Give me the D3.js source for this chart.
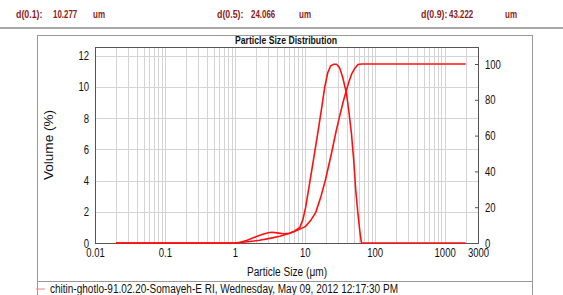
<!DOCTYPE html>
<html>
<head>
<meta charset="utf-8">
<script src="https://cdn.jsdelivr.net/npm/d3@7"></script>
<style>
  html, body { margin: 0; padding: 0; background: #fff; }
  svg { display: block; }
  text { font-family: "Liberation Sans", Arial, sans-serif; }
</style>
</head>
<body>
<div id="chart"></div>
<script>
// ── Data ─────────────────────────────────────────────────────
const percentiles = ["d(0.1):", "d(0.5):", "d(0.9):"];
const percentileValues = ["10.277", "24.066", "43.222"];

// volume % per size (left axis)
const volSizes = [0.02, 1.0, 1.2, 1.5, 2.0, 2.5, 3.0, 3.4, 4.0, 5.0, 6.0, 7.0, 8.0, 8.5, 9.4, 10.3,
                  11.8, 13.5, 15.3, 17.5, 19.3, 21.3, 23.5, 26.0, 28.6, 31.6, 34.9, 39.4, 42.5,
                  46.5, 50.1, 53.5, 57.2, 61.1, 64.6, 2000];
const volValues = [0, 0, 0.05, 0.17, 0.40, 0.56, 0.66, 0.69, 0.65, 0.59, 0.62, 0.74, 0.92, 1.0, 1.5, 2.3,
                   3.9, 5.5, 7.0, 8.7, 10.0, 10.9, 11.35, 11.45, 11.45, 11.2, 10.6, 9.6, 8.5,
                   7.0, 5.3, 3.4, 2.0, 0.8, 0, 0];

// cumulative % undersize (right axis)
const cumSizes = [0.02, 1.0, 1.65, 2.26, 3.16, 4.39, 6.1, 7.95, 10.28, 12.1, 14.3, 16.9, 19.8, 24.07,
                  27.9, 31.6, 35.2, 39.1, 43.2, 46.9, 51.8, 57.7, 65, 2000];
const cumValues = [0, 0, 0.8, 1.5, 2.6, 3.8, 5.4, 7.2, 9.3, 12.5, 17, 25.5, 35.5, 50,
                   62, 71, 78.5, 85, 90.5, 94.5, 97.5, 99.7, 100, 100];

const xTicks = [0.01, 0.1, 1, 10, 100, 1000, 3000];
const yLeftTicks = [0, 2, 4, 6, 8, 10, 12];
const yRightTicks = [0, 20, 40, 60, 80, 100];
const legendLabel = "chitin-ghotlo-91.02.20-Somayeh-E RI, Wednesday, May 09, 2012 12:17:30 PM";

// ── Setup ────────────────────────────────────────────────────
const W = 563, H = 295;
const svg = d3.select("#chart").append("svg").attr("width", W).attr("height", H);

const m = { left: 95, right: 478, top: 47, bottom: 243 };

const x  = d3.scaleLog().domain([0.01, 3000]).range([m.left, m.right]);
const yL = d3.scaleLinear().domain([0, 12.55]).range([m.bottom, m.top]);
const yR = d3.scaleLinear().domain([0, 109.5]).range([m.bottom, m.top]);

// text squeezed like the narrow source font
const narrow = (sel, perChar) => sel.each(function () {
    const t = this.textContent;
    let w = 0;
    for (const c of t) w += (c === "." || c === ":" ) ? perChar * 0.5 : perChar;
    d3.select(this).attr("textLength", w).attr("lengthAdjust", "spacingAndGlyphs");
});

// Header with percentiles
const hdrX = [[16, 53, 93], [217, 251, 299], [421, 449, 505]];
percentiles.forEach((p, i) => {
    [p, percentileValues[i]].forEach((t, j) => {
        svg.append("text").attr("x", hdrX[i][j]).attr("y", 18)
            .attr("font-size", 10).attr("font-weight", "bold").attr("fill", "#8b1c1c")
            .text(t).call(narrow, 4.4);
    });
    svg.append("text").attr("x", hdrX[i][2]).attr("y", 18)
        .attr("font-size", 10).attr("font-weight", "bold").attr("fill", "#8b1c1c")
        .attr("textLength", 12).attr("lengthAdjust", "spacingAndGlyphs")
        .text("um");
});
svg.append("line").attr("x1", 0).attr("x2", W).attr("y1", 28).attr("y2", 28)
    .attr("stroke", "#a8a8a8").attr("stroke-width", 2);

// Outer frame
svg.append("rect").attr("x", 37.5).attr("y", 35.5).attr("width", 495).attr("height", 280)
    .attr("fill", "none").attr("stroke", "#999");
svg.append("line").attr("x1", 37.5).attr("x2", 532.5).attr("y1", 281.5).attr("y2", 281.5)
    .attr("stroke", "#999");

svg.append("text").attr("x", 235).attr("y", 44)
    .attr("font-size", 10).attr("font-weight", "bold").attr("fill", "#111")
    .attr("textLength", 102).attr("lengthAdjust", "spacingAndGlyphs")
    .text("Particle Size Distribution");

// Gridlines
const g = svg.append("g");
const minor = [];
for (let k = -2; k <= 3; k++) for (let j = 1; j <= 9; j++) {
    const v = j * Math.pow(10, k);
    if (v > 0.01 && v < 3000) minor.push(v);
}
g.selectAll(".vg").data(minor).enter().append("line")
    .attr("x1", d => Math.round(x(d)) + 0.5).attr("x2", d => Math.round(x(d)) + 0.5)
    .attr("y1", m.top).attr("y2", m.bottom)
    .attr("stroke", "#d4d4d4");
g.selectAll(".hg").data(yLeftTicks.filter(d => d > 0)).enter().append("line")
    .attr("x1", m.left).attr("x2", m.right)
    .attr("y1", d => Math.round(yL(d)) + 0.5).attr("y2", d => Math.round(yL(d)) + 0.5)
    .attr("stroke", "#d4d4d4");

// Plot frame
svg.append("rect").attr("x", m.left + 0.5).attr("y", m.top + 0.5)
    .attr("width", m.right - m.left).attr("height", m.bottom - m.top)
    .attr("fill", "none").attr("stroke", "#555");

// Axes
const axL = svg.append("g").attr("transform", `translate(${m.left},0)`)
    .call(d3.axisLeft(yL).tickValues(yLeftTicks).tickSize(0).tickPadding(6).tickFormat(d3.format("d")));
const axR = svg.append("g").attr("transform", `translate(${m.right},0)`)
    .call(d3.axisRight(yR).tickValues(yRightTicks).tickSize(-3).tickPadding(7).tickFormat(d3.format("d")));
const axB = svg.append("g").attr("transform", `translate(0,${m.bottom})`)
    .call(d3.axisBottom(x).tickValues(xTicks).tickSize(0).tickPadding(5).tickFormat(d => String(d)));
[axL, axR, axB].forEach(a => {
    a.select(".domain").remove();
    a.selectAll("text").attr("font-size", 13).attr("fill", "#111")
        .attr("font-family", "'Liberation Sans', Arial, sans-serif")
        .call(narrow, 5.3);
    a.selectAll("line").attr("stroke", "#555");
});

// Axis titles
svg.append("text").attr("x", 287).attr("y", 276).attr("text-anchor", "middle")
    .attr("font-size", 12.5).attr("fill", "#111")
    .attr("textLength", 80).attr("lengthAdjust", "spacingAndGlyphs")
    .text("Particle Size (μm)");
svg.append("text").attr("transform", "rotate(-90)").attr("x", -145).attr("y", 53)
    .attr("text-anchor", "middle").attr("font-size", 12).attr("fill", "#111")
    .attr("textLength", 70).attr("lengthAdjust", "spacingAndGlyphs")
    .text("Volume (%)");

// Curves
const volLine = d3.line().x((d, i) => x(volSizes[i])).y(d => yL(d));
const cumLine = d3.line().x((d, i) => x(cumSizes[i])).y(d => yR(d));
svg.append("path").attr("d", cumLine(cumValues))
    .attr("fill", "none").attr("stroke", "#ff1010").attr("stroke-width", 1.6);
svg.append("path").attr("d", volLine(volValues))
    .attr("fill", "none").attr("stroke", "#ff1010").attr("stroke-width", 1.6);

// Legend
svg.append("line").attr("x1", 36).attr("x2", 45).attr("y1", 289).attr("y2", 289)
    .attr("stroke", "#ff8080").attr("stroke-width", 1);
svg.append("text").attr("x", 50).attr("y", 293).attr("font-size", 12).attr("fill", "#111")
    .attr("textLength", 348).attr("lengthAdjust", "spacingAndGlyphs")
    .text(legendLabel);
</script>
</body>
</html>
